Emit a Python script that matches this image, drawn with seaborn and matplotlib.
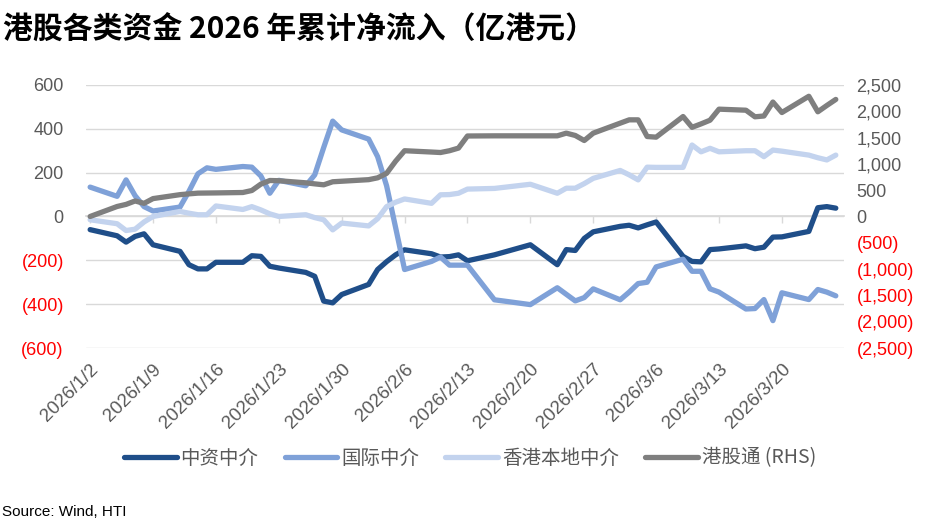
import pandas as pd
import matplotlib
matplotlib.use("Agg")
import matplotlib.pyplot as plt
import matplotlib.dates as mdates
import seaborn as sns

sns.set_theme(style="white")
plt.rcParams["font.family"] = ["Liberation Sans", "Noto Sans CJK SC"]

# === DATA (cumulative net inflow, 100m HKD) ===
dates = [
    "2026-01-02", "2026-01-05", "2026-01-06", "2026-01-07", "2026-01-08", "2026-01-09",
    "2026-01-12", "2026-01-13", "2026-01-14", "2026-01-15", "2026-01-16",
    "2026-01-19", "2026-01-20", "2026-01-21", "2026-01-22", "2026-01-23",
    "2026-01-26", "2026-01-27", "2026-01-28", "2026-01-29", "2026-01-30",
    "2026-02-02", "2026-02-03", "2026-02-04", "2026-02-05", "2026-02-06",
    "2026-02-09", "2026-02-10", "2026-02-11", "2026-02-12", "2026-02-13",
    "2026-02-16", "2026-02-20",
    "2026-02-23", "2026-02-24", "2026-02-25", "2026-02-26", "2026-02-27",
    "2026-03-02", "2026-03-03", "2026-03-04", "2026-03-05", "2026-03-06",
    "2026-03-09", "2026-03-10", "2026-03-11", "2026-03-12", "2026-03-13",
    "2026-03-16", "2026-03-17", "2026-03-18", "2026-03-19", "2026-03-20",
    "2026-03-23", "2026-03-24", "2026-03-25", "2026-03-26",
]
zhongzi = [
    -60, -88, -117, -91, -79, -129,
    -159, -220, -239, -239, -209,
    -209, -179, -182, -227, -235,
    -255, -273, -386, -394, -356,
    -310, -242, -206, -175, -152,
    -170, -185, -183, -175, -202,
    -175, -129,
    -220, -151, -155, -100, -70,
    -45, -40, -52, -38, -25,
    -182, -205, -207, -151, -148,
    -134, -147, -140, -94, -93,
    -68, 40, 45, 38,
]
guoji = [
    134, 92, 167, 95, 45, 25,
    43, 115, 195, 222, 215,
    228, 225, 185, 106, 165,
    140, 190, 315, 435, 395,
    353, 273, 140, -50, -242,
    -205, -185, -222, -222, -222,
    -380, -402,
    -325, -355, -385, -370, -330,
    -380, -345, -306, -300, -230,
    -195, -250, -250, -330, -345,
    -422, -420, -379, -475, -348,
    -379, -333, -345, -362,
]
bendi = [
    -15, -33, -64, -58, -25, 0,
    23, 15, 8, 8, 48,
    32, 45, 30, 12, 0,
    8, -5, -15, -61, -30,
    -43, -10, 45, 65, 80,
    60, 99, 100, 106, 125,
    128, 147,
    106, 129, 129, 150, 174,
    210, 190, 167, 225, 224,
    224, 326, 295, 311, 295,
    300, 300, 273, 303, 298,
    280, 268, 258, 280,
]
ggt = [
    0, 190, 230, 295, 250, 340,
    415, 430, 444, 446, 448,
    456, 494, 615, 684, 680,
    640, 620, 602, 660, 670,
    700, 735, 820, 1050, 1250,
    1225, 1216, 1250, 1300, 1530,
    1533, 1533,
    1533, 1584, 1540, 1444, 1584,
    1774, 1837, 1837, 1520, 1508,
    1900, 1695, 1760, 1830, 2040,
    2020, 1895, 1910, 2175, 1976,
    2285, 1990, 2110, 2225,
]
series_names = ["中资中介", "国际中介", "香港本地中介", "港股通 (RHS)"]
tick_days = [
    "2026-01-02", "2026-01-09", "2026-01-16", "2026-01-23", "2026-01-30", "2026-02-06",
    "2026-02-13", "2026-02-20", "2026-02-27", "2026-03-06", "2026-03-13", "2026-03-20",
]
left_ticks = [600, 400, 200, 0, -200, -400, -600]
right_ticks = [2500, 2000, 1500, 1000, 500, 0, -500, -1000, -1500, -2000, -2500]

COLORS = ["#1F4E89", "#7FA1D8", "#C3D3EE", "#7F7F7F"]
GRID = "#D9D9D9"
TXT = "#595959"
RED = "#FF0000"


def fmt_num(v):
    s = f"{abs(v):,}"
    return f"({s})" if v < 0 else s


df = pd.DataFrame({
    "date": pd.to_datetime(dates),
    series_names[0]: zhongzi,
    series_names[1]: guoji,
    series_names[2]: bendi,
    series_names[3]: ggt,
})
ticks_dt = pd.to_datetime(tick_days)

fig = plt.figure(figsize=(9.27, 5.31), dpi=100)
ax = fig.add_axes([0.0928, 0.3446, 0.8177, 0.4954])
ax2 = ax.twinx()

line_kw = dict(lw=3.8, solid_joinstyle="round", solid_capstyle="round", legend=False)
for name, color in zip(series_names[:3], COLORS[:3]):
    sns.lineplot(data=df, x="date", y=name, ax=ax, color=color, label=name, **line_kw)
sns.lineplot(data=df, x="date", y=series_names[3], ax=ax2, color=COLORS[3],
             label=series_names[3], **line_kw)

# --- axes limits / ticks ---
ax.set_xlim(df["date"].min() - pd.Timedelta(hours=11),
            df["date"].max() + pd.Timedelta(hours=22))
ax.set_ylim(-600, 600)
ax2.set_ylim(-2500, 2500)

ax.set_xticks(ticks_dt, labels=[f"{d.year}/{d.month}/{d.day}" for d in ticks_dt])
ax.tick_params(axis="x", length=0, pad=9, labelsize=13.5, labelcolor=TXT)
for lbl in ax.get_xticklabels():
    lbl.set_rotation(45)
    lbl.set_ha("right")
    lbl.set_rotation_mode("anchor")

ax.set_yticks(left_ticks, labels=[fmt_num(v) for v in left_ticks])
ax.tick_params(axis="y", length=0, pad=16, labelsize=13)
for lbl, v in zip(ax.get_yticklabels(), left_ticks):
    lbl.set_color(RED if v < 0 else TXT)

ax2.set_yticks(right_ticks, labels=[fmt_num(v) for v in right_ticks])
ax2.tick_params(axis="y", length=0, pad=9, labelsize=13)
for lbl, v in zip(ax2.get_yticklabels(), right_ticks):
    lbl.set_color(RED if v < 0 else TXT)

ax.grid(axis="y", color=GRID, lw=1)
ax.grid(axis="x", visible=False)
ax2.grid(False)
for a in (ax, ax2):
    a.set_xlabel("")
    a.set_ylabel("")
    for s in a.spines.values():
        s.set_visible(False)

# category axis crossing at zero, with weekly tick marks
sec = ax.secondary_xaxis(0.5)
sec.set_xticks(mdates.date2num(ticks_dt))
sec.xaxis.set_ticks_position("bottom")
sec.tick_params(axis="x", direction="out", length=5, width=1, color=GRID,
                labelbottom=False, labeltop=False)
for s in sec.spines.values():
    s.set_color(GRID)

# --- legend ---
h1, l1 = ax.get_legend_handles_labels()
h2, l2 = ax2.get_legend_handles_labels()
fig.legend(h1 + h2, l1 + l2, loc="center", bbox_to_anchor=(0.507, 1 - 458 / 531),
           ncol=4, frameon=False, handlelength=2.7, handletextpad=0.2,
           columnspacing=1.35, labelcolor=TXT,
           prop={"family": ["Noto Sans CJK SC"], "size": 14})

fig.text(0.003, 1 - 30 / 531, "港股各类资金 2026 年累计净流入（亿港元）",
         fontsize=21.5, fontweight="bold", family=["Noto Sans CJK SC"],
         ha="left", va="center", color="black")
fig.text(0.002, 1 - 512 / 531, "Source: Wind, HTI", fontsize=11,
         ha="left", va="center", color="black")

fig.savefig("out.png", dpi=100)
